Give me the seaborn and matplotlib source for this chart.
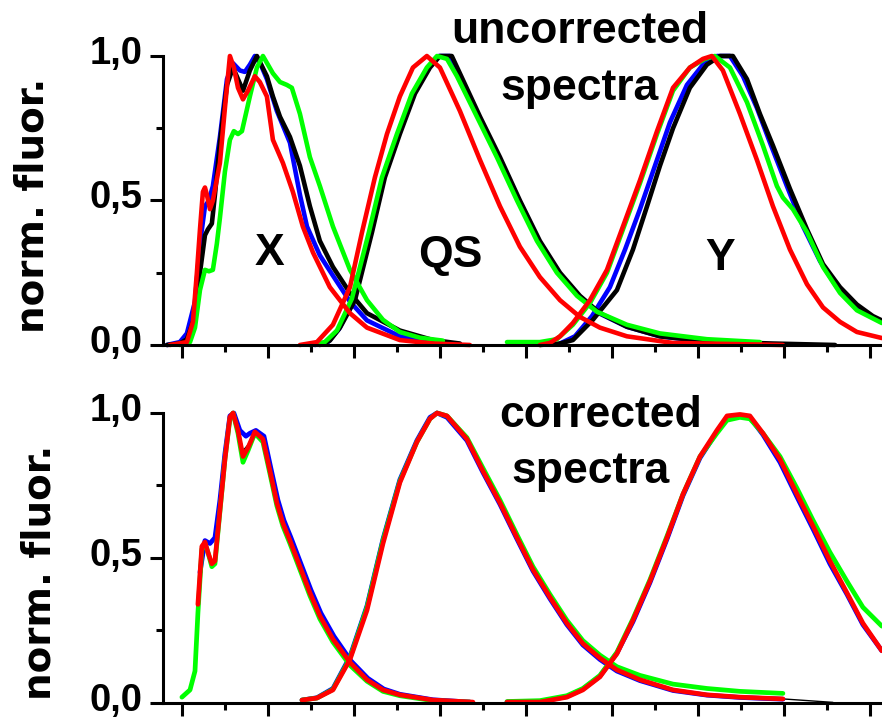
import numpy as np
import pandas as pd
import seaborn as sns
import matplotlib
matplotlib.use('Agg')
import matplotlib.pyplot as plt
import matplotlib.transforms as mtransforms
from matplotlib.ticker import MultipleLocator

# -------------------------------------------------------------
# data (wavelength in nm, normalised signal)
# u_ = uncorrected (top panel), c_ = corrected (bottom panel)
# -------------------------------------------------------------
ytick_values = [0.0, 0.5, 1.0]
ytick_labels = ['0,0', '0,5', '1,0']

# --- top panel, band X ---
u_X_blue_wl = [391.3, 398.8, 402.9, 407.6, 410.5, 413.4, 415.7, 418.0, 422.1, 426.2, 429.7, 433.7, 436.6, 439.5,
               442.4, 445.9, 449.4, 455.2, 462.8, 468.6, 472.7, 480.2, 487.8, 497.7, 507.6, 526.7, 545.9, 561.6]
u_X_blue = [0.0, 0.01, 0.04, 0.15, 0.35, 0.48, 0.50, 0.55, 0.72, 0.92, 0.975, 0.95, 0.945, 0.97,
            1.0, 0.97, 0.92, 0.81, 0.70, 0.52, 0.41, 0.31, 0.24, 0.15, 0.085, 0.03, 0.01, 0.003]
u_X_black_wl = [391.3, 398.8, 402.9, 407.6, 410.5, 413.4, 415.1, 417.4, 419.2, 422.1, 426.2, 429.7, 432.6, 435.5,
                439.5, 443.6, 449.4, 452.9, 457.0, 462.8, 468.6, 474.4, 480.2, 487.8, 497.7, 507.6, 526.7, 545.9, 561.6]
u_X_black = [0.0, 0.005, 0.02, 0.10, 0.25, 0.38, 0.40, 0.42, 0.52, 0.70, 0.90, 0.96, 0.92, 0.88,
             0.95, 1.0, 0.93, 0.86, 0.79, 0.72, 0.62, 0.48, 0.36, 0.27, 0.18, 0.11, 0.05, 0.017, 0.005]
u_X_green_wl = [398.8, 404.7, 407.6, 410.5, 413.4, 415.7, 418.0, 420.3, 422.1, 425.0, 427.9, 430.2, 432.6, 434.9,
                439.5, 443.6, 447.1, 450.0, 452.9, 457.0, 461.0, 463.9, 468.6, 474.4, 480.2, 487.8, 497.7, 507.6,
                516.9, 526.7, 538.4, 551.7]
u_X_green = [0.0, 0.01, 0.06, 0.19, 0.26, 0.255, 0.26, 0.35, 0.44, 0.60, 0.71, 0.74, 0.73, 0.74,
             0.86, 0.96, 1.0, 0.97, 0.94, 0.91, 0.90, 0.89, 0.80, 0.65, 0.55, 0.41, 0.26, 0.155,
             0.087, 0.045, 0.025, 0.015]
u_X_red_wl = [393.0, 402.9, 406.4, 408.7, 410.5, 412.2, 413.4, 414.5, 416.3, 418.0, 422.1, 425.0, 427.9, 430.2,
              432.6, 435.5, 438.4, 442.4, 445.3, 449.4, 452.9, 458.7, 464.5, 470.3, 476.2, 486.0, 497.7, 507.6,
              526.7, 545.9, 567.4]
u_X_red = [0.0, 0.01, 0.08, 0.25, 0.40, 0.53, 0.545, 0.52, 0.47, 0.50, 0.63, 0.82, 1.0, 0.96,
           0.89, 0.85, 0.88, 0.93, 0.91, 0.86, 0.71, 0.63, 0.53, 0.41, 0.32, 0.20, 0.11, 0.06,
           0.017, 0.005, 0.0]

# --- top panel, band QS ---
u_QS_blue_wl = [477.3, 484.9, 491.3, 500.0, 509.9, 517.4, 526.2, 534.9, 543.6, 549.4, 555.8, 561.0, 572.7, 584.3,
                596.0, 607.6, 619.2, 630.8, 642.4, 658.7, 677.9, 705.2, 736.0]
u_QS_blue = [0.0, 0.01, 0.055, 0.16, 0.39, 0.58, 0.73, 0.87, 0.96, 1.0, 1.0, 0.94, 0.79, 0.65,
             0.50, 0.36, 0.25, 0.17, 0.11, 0.063, 0.03, 0.012, 0.004]
u_QS_black_wl = [480.2, 486.0, 491.9, 500.6, 510.5, 518.0, 526.7, 535.5, 544.2, 550.0, 556.9, 561.6, 573.3, 584.9,
                 596.5, 608.1, 619.8, 631.4, 643.0, 658.7, 677.9, 705.2, 743.6, 779.7]
u_QS_black = [0.0, 0.015, 0.06, 0.155, 0.39, 0.58, 0.73, 0.87, 0.96, 1.0, 1.0, 0.94, 0.79, 0.65,
              0.50, 0.36, 0.25, 0.17, 0.11, 0.063, 0.03, 0.012, 0.005, 0.0]
u_QS_green_wl = [474.4, 483.1, 490.1, 498.8, 508.7, 516.3, 525.0, 533.7, 542.4, 548.3, 554.1, 559.9, 571.5, 583.1,
                 594.8, 606.4, 618.0, 629.7, 641.3, 658.7, 677.9, 705.2, 736.0]
u_QS_green = [0.0, 0.01, 0.05, 0.16, 0.39, 0.58, 0.73, 0.87, 0.96, 1.0, 0.99, 0.93, 0.79, 0.65,
              0.50, 0.36, 0.25, 0.17, 0.115, 0.07, 0.04, 0.02, 0.01]
u_QS_red_wl = [468.6, 478.5, 487.8, 497.7, 504.7, 512.2, 519.2, 526.7, 534.3, 542.4, 550.0, 561.6, 573.3, 584.9,
               596.5, 608.1, 619.8, 631.4, 643.0, 658.7, 685.5, 749.4]
u_QS_red = [0.0, 0.01, 0.07, 0.20, 0.39, 0.58, 0.73, 0.86, 0.96, 1.0, 0.96, 0.81, 0.64, 0.48,
            0.34, 0.235, 0.155, 0.097, 0.06, 0.03, 0.007, 0.0]

# --- top panel, band Y ---
u_Y_blue_wl = [619.8, 628.5, 638.4, 648.8, 657.6, 666.3, 675.0, 683.7, 693.6, 702.9, 711.0, 718.6, 726.2, 734.3,
               741.9, 751.7, 761.1, 771.0, 780.8, 790.1, 800.0, 806.9]
u_Y_blue = [0.005, 0.03, 0.10, 0.20, 0.33, 0.47, 0.62, 0.77, 0.90, 0.97, 1.0, 1.0, 0.93, 0.82,
            0.70, 0.55, 0.41, 0.29, 0.20, 0.14, 0.10, 0.08]
u_Y_black_wl = [608.1, 619.8, 627.3, 638.9, 652.9, 662.2, 670.4, 677.9, 685.5, 695.3, 705.2, 712.8, 720.3, 728.5,
                736.0, 743.6, 753.5, 763.4, 772.7, 782.6, 792.4, 801.7, 806.9]
u_Y_black = [0.0, 0.005, 0.017, 0.087, 0.19, 0.33, 0.48, 0.62, 0.75, 0.89, 0.97, 1.0, 1.0, 0.92,
             0.80, 0.69, 0.54, 0.40, 0.28, 0.20, 0.14, 0.10, 0.085]
u_Y_green_wl = [589.0, 608.1, 618.0, 627.3, 637.2, 647.1, 656.4, 666.3, 676.2, 685.5, 695.3, 704.1, 709.9, 718.6,
                728.5, 737.8, 745.9, 749.4, 755.2, 763.4, 772.7, 782.6, 792.4, 806.9]
u_Y_green = [0.01, 0.01, 0.02, 0.07, 0.145, 0.25, 0.40, 0.56, 0.73, 0.88, 0.96, 0.99, 1.0, 0.96,
             0.84, 0.69, 0.55, 0.51, 0.47, 0.39, 0.27, 0.18, 0.12, 0.076]
u_Y_red_wl = [608.1, 613.9, 619.8, 627.3, 637.2, 647.1, 656.4, 666.3, 676.2, 685.5, 695.3, 702.9, 708.1, 714.5,
              724.4, 734.3, 743.6, 753.5, 763.4, 772.7, 782.6, 792.4, 806.9]
u_Y_red = [0.0, 0.007, 0.03, 0.076, 0.155, 0.26, 0.41, 0.57, 0.74, 0.89, 0.96, 0.99, 1.0, 0.95,
           0.80, 0.64, 0.48, 0.33, 0.21, 0.13, 0.08, 0.045, 0.024]

# --- bottom panel, band X ---
c_X_blue_wl = [410.5, 413.4, 416.3, 419.2, 422.1, 425.0, 427.9, 430.2, 433.7, 437.2, 439.5, 443.0, 447.7, 451.7,
               455.8, 459.3, 463.4, 469.2, 475.0, 480.8, 488.4, 498.3, 508.1, 517.4, 526.7, 545.9, 567.4]
c_X_blue = [0.45, 0.56, 0.55, 0.57, 0.70, 0.86, 0.99, 1.0, 0.94, 0.92, 0.93, 0.94, 0.92, 0.81,
            0.70, 0.63, 0.57, 0.48, 0.39, 0.31, 0.23, 0.145, 0.085, 0.048, 0.03, 0.011, 0.003]
c_X_black_wl = [409.3, 411.6, 413.4, 415.1, 417.4, 419.2, 422.1, 425.0, 427.9, 429.7, 432.6, 435.5, 438.4, 442.4,
                447.1, 451.2, 455.2, 458.7, 462.8, 468.6, 474.4, 480.2, 487.8, 497.7, 507.6, 516.9, 526.7, 545.9,
                569.2]
c_X_black = [0.34, 0.54, 0.555, 0.52, 0.48, 0.49, 0.665, 0.84, 0.986, 1.0, 0.95, 0.87, 0.89, 0.935,
             0.91, 0.80, 0.69, 0.62, 0.56, 0.47, 0.38, 0.30, 0.22, 0.14, 0.08, 0.045, 0.028, 0.01,
             0.003]
c_X_green_wl = [400.0, 404.7, 407.6, 409.3, 411.6, 413.4, 415.1, 417.4, 419.2, 422.1, 425.0, 427.9, 429.7, 432.6,
                435.5, 438.4, 442.4, 447.1, 451.2, 455.2, 458.7, 462.8, 468.6, 474.4, 480.2, 487.8, 497.7, 507.6,
                516.9, 526.7, 545.9, 567.4]
c_X_green = [0.02, 0.045, 0.11, 0.31, 0.53, 0.55, 0.52, 0.47, 0.48, 0.66, 0.84, 0.98, 1.0, 0.93,
             0.83, 0.87, 0.93, 0.90, 0.79, 0.68, 0.61, 0.55, 0.46, 0.37, 0.29, 0.21, 0.13, 0.075,
             0.04, 0.025, 0.008, 0.003]
c_X_red_wl = [409.3, 411.6, 413.4, 415.1, 417.4, 419.2, 422.1, 425.0, 427.9, 429.7, 432.6, 435.5, 438.4, 442.4,
              447.1, 451.2, 455.2, 458.7, 462.8, 468.6, 474.4, 480.2, 487.8, 497.7, 507.6, 516.9, 526.7, 545.9,
              569.2]
c_X_red = [0.34, 0.54, 0.555, 0.52, 0.48, 0.49, 0.665, 0.84, 0.986, 1.0, 0.94, 0.85, 0.88, 0.935,
           0.91, 0.80, 0.69, 0.62, 0.56, 0.47, 0.38, 0.30, 0.22, 0.14, 0.08, 0.045, 0.028, 0.01,
           0.003]

# --- bottom panel, band QS ---
c_QS_wl = [469.8, 478.5, 487.8, 497.7, 507.6, 516.9, 526.7, 536.6, 544.2, 548.3, 554.1, 565.7, 575.0, 584.9,
           594.8, 604.1, 613.9, 623.8, 633.1, 643.0, 652.9, 666.3, 685.5, 705.2, 724.4, 749.4]
c_QS_blue = [0.01, 0.018, 0.05, 0.16, 0.335, 0.565, 0.77, 0.905, 0.985, 1.0, 0.985, 0.905, 0.795, 0.685,
             0.565, 0.455, 0.36, 0.27, 0.2, 0.15, 0.11, 0.077, 0.043, 0.027, 0.019, 0.013]
c_QS_green = [0.01, 0.017, 0.047, 0.155, 0.33, 0.56, 0.765, 0.90, 0.98, 1.0, 0.99, 0.915, 0.81, 0.70,
              0.58, 0.47, 0.375, 0.285, 0.215, 0.165, 0.125, 0.095, 0.065, 0.05, 0.04, 0.033]
c_QS_red = [0.01, 0.017, 0.045, 0.15, 0.32, 0.55, 0.76, 0.90, 0.98, 1.0, 0.99, 0.91, 0.80, 0.69,
            0.57, 0.46, 0.365, 0.275, 0.205, 0.155, 0.114, 0.08, 0.045, 0.028, 0.02, 0.014]
c_QS_black_wl = [469.8, 478.5, 487.8, 497.7, 507.6, 516.9, 526.7, 536.6, 544.2, 548.3, 554.1, 565.7, 575.0, 584.9,
                 594.8, 604.1, 613.9, 623.8, 633.1, 643.0, 652.9, 666.3, 685.5, 705.2, 724.4, 749.4, 778.5]
c_QS_black = [0.01, 0.017, 0.045, 0.15, 0.32, 0.55, 0.76, 0.90, 0.98, 1.0, 0.99, 0.91, 0.80, 0.69,
              0.57, 0.46, 0.365, 0.275, 0.205, 0.155, 0.114, 0.08, 0.045, 0.028, 0.02, 0.014, 0.002]

# --- bottom panel, band Y ---
c_Y_wl = [589.0, 608.1, 623.8, 633.1, 643.0, 652.9, 662.2, 672.1, 682.0, 691.3, 701.2, 711.0, 716.9, 724.4,
          730.2, 737.8, 747.7, 757.6, 766.9, 776.7, 786.6, 795.9, 806.9]
c_Y_blue = [0.003, 0.004, 0.022, 0.048, 0.092, 0.172, 0.28, 0.415, 0.565, 0.715, 0.845, 0.935, 0.985, 0.99,
            0.985, 0.925, 0.83, 0.71, 0.60, 0.48, 0.375, 0.27, 0.18]
c_Y_black = [0.003, 0.003, 0.02, 0.045, 0.09, 0.17, 0.285, 0.42, 0.57, 0.72, 0.85, 0.94, 0.99, 0.995,
             0.99, 0.93, 0.84, 0.72, 0.61, 0.49, 0.38, 0.275, 0.18]
c_Y_green = [0.005, 0.008, 0.025, 0.05, 0.095, 0.175, 0.29, 0.425, 0.575, 0.72, 0.85, 0.93, 0.975, 0.985,
             0.98, 0.93, 0.85, 0.74, 0.63, 0.52, 0.42, 0.33, 0.265]
c_Y_red = [0.003, 0.003, 0.02, 0.045, 0.09, 0.17, 0.285, 0.42, 0.57, 0.72, 0.85, 0.94, 0.99, 0.995,
           0.99, 0.93, 0.84, 0.72, 0.61, 0.49, 0.38, 0.275, 0.18]

BLUE, BLACK, GREEN, RED = '#0000FF', '#000000', '#00FF00', '#FF0000'

# drawing order matters: red ends up on top
top_curves = [
    (u_X_blue_wl, u_X_blue, BLUE), (u_QS_blue_wl, u_QS_blue, BLUE), (u_Y_blue_wl, u_Y_blue, BLUE),
    (u_X_black_wl, u_X_black, BLACK), (u_QS_black_wl, u_QS_black, BLACK), (u_Y_black_wl, u_Y_black, BLACK),
    (u_X_green_wl, u_X_green, GREEN), (u_QS_green_wl, u_QS_green, GREEN), (u_Y_green_wl, u_Y_green, GREEN),
    (u_X_red_wl, u_X_red, RED), (u_QS_red_wl, u_QS_red, RED), (u_Y_red_wl, u_Y_red, RED),
]
bottom_curves = [
    (c_X_black_wl, c_X_black, BLACK, 1.0), (c_QS_black_wl, c_QS_black, BLACK, 1.0), (c_Y_wl, c_Y_black, BLACK, 1.0),
    (c_X_blue_wl, c_X_blue, BLUE, 3.4), (c_QS_wl, c_QS_blue, BLUE, 3.4), (c_Y_wl, c_Y_blue, BLUE, 3.4),
    (c_X_green_wl, c_X_green, GREEN, 3.4), (c_QS_wl, c_QS_green, GREEN, 3.4), (c_Y_wl, c_Y_green, GREEN, 3.4),
    (c_X_red_wl, c_X_red, RED, 3.4), (c_QS_wl, c_QS_red, RED, 3.4), (c_Y_wl, c_Y_red, RED, 3.4),
]

# -------------------------------------------------------------
# figure
# -------------------------------------------------------------
sns.set_style('ticks')
plt.rcParams['font.family'] = ['Liberation Sans', 'DejaVu Sans']
plt.rcParams['font.weight'] = 'bold'
for key in ['text.color', 'axes.labelcolor', 'xtick.color', 'ytick.color', 'axes.edgecolor']:
    plt.rcParams[key] = 'black'

fig = plt.figure(figsize=(8.82, 7.19), dpi=100)
ax_top = fig.add_axes([0.1848, 0.5202, 0.8152, 0.4019])
ax_bot = fig.add_axes([0.1848, 0.0223, 0.8152, 0.4033])

for wl, val, col in top_curves:
    sns.lineplot(x=wl, y=val, ax=ax_top, color=col, linewidth=3.3,
                 sort=False, estimator=None, legend=False, clip_on=False)
for wl, val, col, lw in bottom_curves:
    sns.lineplot(x=wl, y=val, ax=ax_bot, color=col, linewidth=lw,
                 sort=False, estimator=None, legend=False, clip_on=False)

# tick labels sit a few pixels above their ticks in the original
lift = mtransforms.ScaledTranslation(0, 6 / 100, fig.dpi_scale_trans)

for ax, lab_x, lab_y in [(ax_top, -0.181, 0.484), (ax_bot, -0.172, 0.45)]:
    ax.set_xlim(389, 807)
    ax.set_ylim(0, 1.0)
    sns.despine(ax=ax)
    for side in ['left', 'bottom']:
        ax.spines[side].set_linewidth(2.2)
    ax.set_yticks(ytick_values)
    ax.set_yticklabels(ytick_labels)
    ax.yaxis.set_minor_locator(MultipleLocator(0.25))
    ax.xaxis.set_major_locator(MultipleLocator(50))
    ax.xaxis.set_minor_locator(MultipleLocator(25))
    ax.tick_params(which='major', direction='out', length=9.5, width=2.2,
                   labelsize=27.5, pad=5, labelbottom=False)
    ax.tick_params(which='minor', direction='out', length=5, width=2.2)
    ax.set_xlabel('')
    ax.set_ylabel('norm. fluor.', fontsize=28, fontweight='bold', family='DejaVu Sans')
    ax.yaxis.set_label_coords(lab_x, lab_y)
    ax.yaxis.label.set_va('center')
    for t in ax.get_yticklabels():
        t.set_fontweight('bold')
        t.set_transform(t.get_transform() + lift)

txt = dict(fontsize=32, fontweight='bold', ha='center', va='baseline')
ax_top.text(450.6, 0.277, 'X', **txt)
ax_top.text(555.8, 0.27, 'QS', **txt)
ax_top.text(712.8, 0.26, 'Y', **txt)
ax_top.text(631.4, 1.045, 'uncorrected', **txt)
ax_top.text(631.4, 0.848, 'spectra', **txt)
ax_bot.text(643.6, 0.952, 'corrected', **txt)
ax_bot.text(637.8, 0.759, 'spectra', **txt)

plt.savefig('out.png', dpi=100)
plt.close()
